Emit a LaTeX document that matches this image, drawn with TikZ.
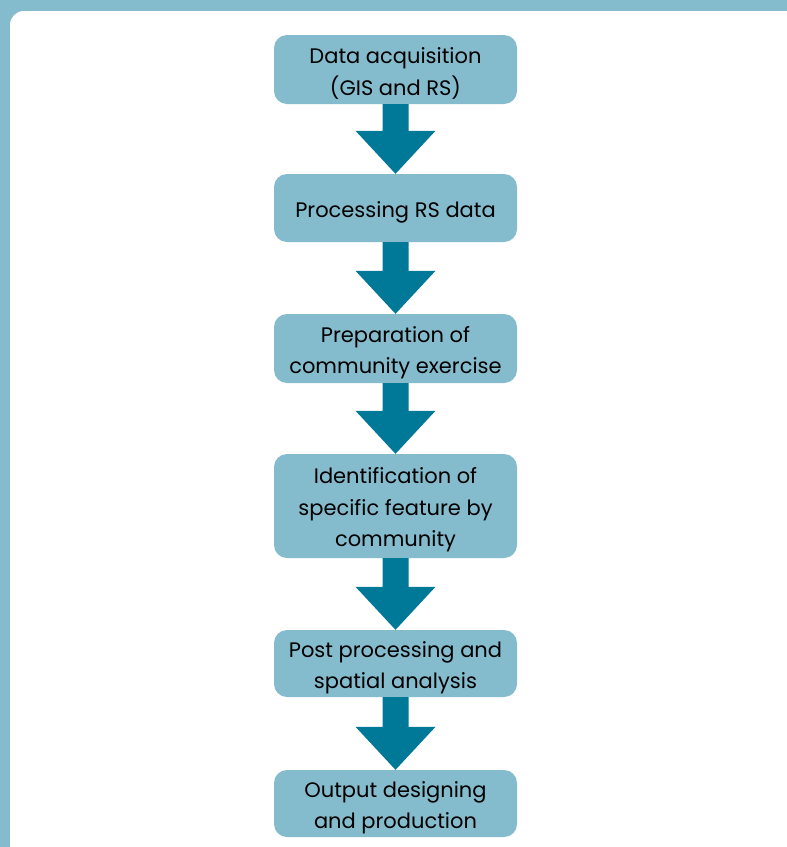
\documentclass[tikz,border=0pt]{standalone}
\usepackage{fontspec}
\setmainfont{Poppins}
\usetikzlibrary{calc}
\definecolor{bgteal}{RGB}{133,188,205}
\definecolor{boxteal}{RGB}{133,188,205}
\definecolor{arrowteal}{RGB}{0,120,152}
\tikzset{
  stepbox/.style={fill=boxteal, rounded corners=13pt, minimum width=243pt, inner sep=0pt},
  steptext/.style={align=center, inner sep=0pt, yshift=-4pt,
    font=\fontsize{21}{31.5}\selectfont, text=black},
}
\newcommand{\flowarrow}[2]{%
  \fill[arrowteal] ($(#1.south)+(-13,0)$) -- ($(#2.north)+(-13,43)$) -- ($(#2.north)+(-40,43)$)
    -- (#2.north) -- ($(#2.north)+(40,43)$) -- ($(#2.north)+(13,43)$) -- ($(#1.south)+(13,0)$) -- cycle;}
\begin{document}
\begin{tikzpicture}[x=1pt,y=1pt]
\useasboundingbox (0,0) rectangle (787,-847);
\clip (0,0) rectangle (787,-847);
\fill[bgteal] (0,0) rectangle (787,-847);
\fill[white, rounded corners=14pt] (10,-11) rectangle (820,-880);
\node[stepbox, minimum height=69pt] (a) at (395.5,-69.5) {};
\node[stepbox, minimum height=68pt] (b) at (395.5,-208) {};
\node[stepbox, minimum height=69pt] (c) at (395.5,-348.5) {};
\node[stepbox, minimum height=104pt] (d) at (395.5,-506) {};
\node[stepbox, minimum height=67pt] (e) at (395.5,-663.5) {};
\node[stepbox, minimum height=67pt] (f) at (395.5,-803.5) {};
\node[steptext] (ta) at (a) {Data acquisition\\(GIS and RS)};
\node[steptext] (tb) at (b) {Processing RS data};
\node[steptext] (tc) at (c) {Preparation of\\community exercise};
\node[steptext] (td) at (d) {Identification of\\specific feature by\\community};
\node[steptext] (te) at (e) {Post processing and\\spatial analysis};
\node[steptext] (tf) at (f) {Output designing\\and production};
\flowarrow{a}{b}
\flowarrow{b}{c}
\flowarrow{c}{d}
\flowarrow{d}{e}
\flowarrow{e}{f}
\end{tikzpicture}
\end{document}
